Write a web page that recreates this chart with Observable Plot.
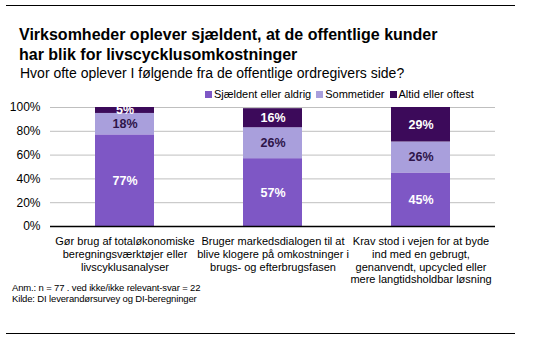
<!DOCTYPE html>
<html><head><meta charset="utf-8">
<script src="https://cdn.jsdelivr.net/npm/d3@7"></script>
<script src="https://cdn.jsdelivr.net/npm/@observablehq/plot@0.6"></script>
<style>
body{margin:0;background:#fff;font-family:"Liberation Sans",Arial,sans-serif;}
#wrap{position:relative;width:535px;height:341px;overflow:hidden;}
.rule{position:absolute;left:6px;width:509px;height:0;border-top:1.5px solid #000;}
#title{position:absolute;left:19px;top:25px;font-size:16px;font-weight:bold;line-height:20px;color:#000;}
#sub{position:absolute;left:20px;top:65px;font-size:14px;color:#000;}
#legend{position:absolute;left:205px;top:88px;font-size:11px;color:#000;display:flex;gap:5px;}
#legend span i{display:inline-block;width:7px;height:7px;margin-right:2px;}
#notes{position:absolute;left:12px;top:282px;font-size:9.5px;line-height:11px;letter-spacing:-0.15px;color:#000;}
#plot{position:absolute;left:0;top:0;}
</style></head>
<body><div id="wrap">
<div class="rule" style="top:5px"></div>
<div class="rule" style="top:333px"></div>
<div id="title">Virksomheder oplever sjældent, at de offentlige kunder<br>har blik for livscycklusomkostninger</div>
<div id="sub">Hvor ofte oplever I følgende fra de offentlige ordregivers side?</div>
<div id="plot"></div>
<div id="legend"></div>
<div id="notes">Anm.: n = 77 . ved ikke/ikke relevant-svar = 22<br>Kilde: DI leverandørsurvey og DI-beregninger</div>
</div>
<script>
const categories = [
  "Gør brug af totaløkonomiske\nberegningsværktøjer eller\nlivscyklusanalyser",
  "Bruger markedsdialogen til at\nblive klogere på omkostninger i\nbrugs- og efterbrugsfasen",
  "Krav stod i vejen for at byde\nind med en gebrugt,\ngenanvendt, upcycled eller\nmere langtidsholdbar løsning"
];
const series = ["Sjældent eller aldrig", "Sommetider", "Altid eller oftest"];
const colors = ["#7e57c5", "#a99fdc", "#3c0a5a"];
const sjaeldent = [77, 57, 45];
const sommetider = [18, 26, 26];
const altid = [5, 16, 29];
const yTicks = [0, 20, 40, 60, 80, 100];

const values = [sjaeldent, sommetider, altid];
const data = [];
series.forEach((s, si) => categories.forEach((c, ci) => data.push({cat: c, series: s, value: values[si][ci]})));

const chart = Plot.plot({
  width: 535, height: 341,
  marginLeft: 50, marginRight: 40, marginTop: 107, marginBottom: 115,
  style: {fontFamily: "'Liberation Sans', Arial, sans-serif", background: "transparent"},
  x: {domain: categories, paddingInner: 0.6, paddingOuter: 0.3, label: null},
  y: {domain: [0, 100], label: null},
  color: {domain: series, range: colors},
  marks: [
    Plot.gridY(yTicks, {stroke: "#bfbfbf", strokeOpacity: 1, strokeWidth: 1}),
    Plot.barY(data, {x: "cat", y: "value", fill: "series", z: "series"}),
    Plot.text(data, Plot.stackY({x: "cat", y: "value", z: "series",
      text: d => d.series !== "Sommetider" ? d.value + "%" : "", fill: "white", fontWeight: "bold", fontSize: 12.5})),
    Plot.text(data, Plot.stackY({x: "cat", y: "value", z: "series",
      text: d => d.series === "Sommetider" ? d.value + "%" : "", fill: "#2e1449", fontWeight: "bold", fontSize: 12.5})),
    Plot.ruleY([0], {stroke: "#000", strokeWidth: 1.5}),
    Plot.axisY({ticks: yTicks, tickFormat: d => d + "%", tickSize: 0, tickPadding: 10, fontSize: 12, label: null, fill: "#000"}),
    Plot.axisX({tickSize: 0, tickPadding: 10, fontSize: 11, lineHeight: 1.15, label: null, fill: "#000", textOverflow: null, lineWidth: 40})
  ]
});
document.getElementById("plot").appendChild(chart);

const lg = document.getElementById("legend");
series.forEach((s, i) => {
  const sp = document.createElement("span");
  sp.innerHTML = `<i style="background:${colors[i]}"></i>${s}`;
  lg.appendChild(sp);
});
</script>
</body></html>
